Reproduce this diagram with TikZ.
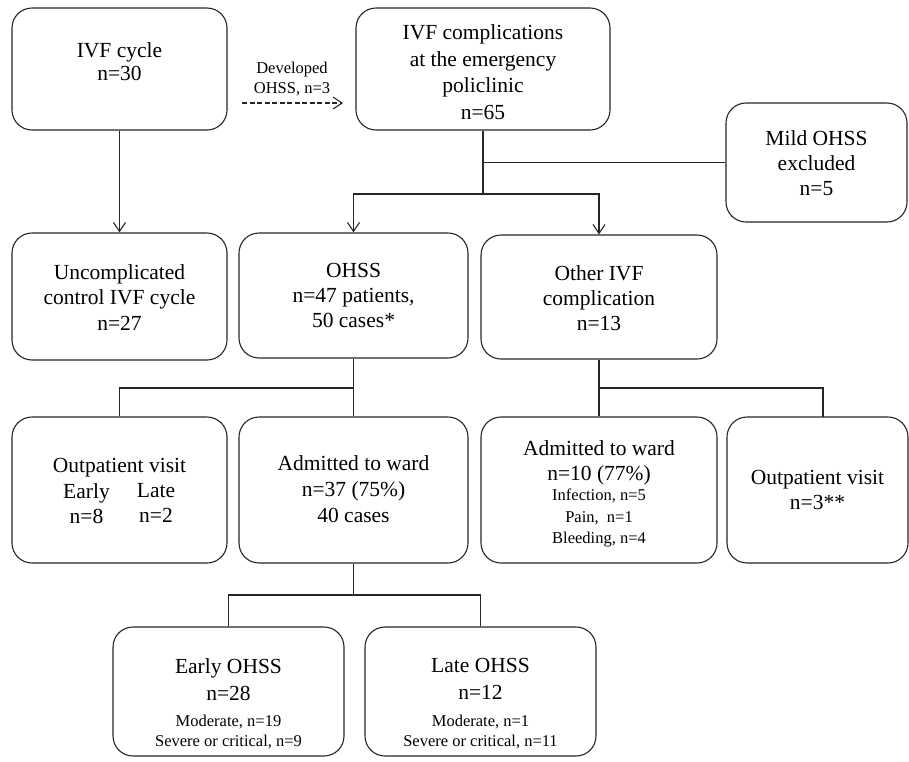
\documentclass[tikz,border=0pt]{standalone}
\usepackage{fontspec}
\setmainfont{Liberation Serif}
\usetikzlibrary{arrows.meta,calc}
\begin{document}
\begin{tikzpicture}[x=1pt,y=-1pt,
  box/.style={draw=black!85,line width=1.1pt,rounded corners=20pt,fill=white,inner sep=0pt},
  big/.style={anchor=north,inner sep=0pt,align=center,font=\fontsize{21.5}{#1}\selectfont},
  big/.default=25.5,
  small/.style={anchor=north,inner sep=0pt,align=center,font=\fontsize{16.5}{#1}\selectfont},
  small/.default=21,
  conn/.style={draw=black!85,line width=1.1pt},
  arr/.style={conn,-{Straight Barb[length=9pt,width=12pt,line width=1.1pt]}}]
\useasboundingbox (0,0) rectangle (909,761);
% boxes
\node[box,minimum width=215pt,minimum height=122pt] (bA) at (119.5,69) {};
\node[box,minimum width=254pt,minimum height=122pt] (bB) at (483,69) {};
\node[box,minimum width=181pt,minimum height=119pt] (bM) at (816.5,162.5) {};
\node[box,minimum width=215pt,minimum height=127pt] (bC) at (119.5,296.5) {};
\node[box,minimum width=229pt,minimum height=125pt] (bD) at (353.5,295.5) {};
\node[box,minimum width=236pt,minimum height=124pt] (bE) at (599,297) {};
\node[box,minimum width=215pt,minimum height=146pt] (bF) at (119.5,490) {};
\node[box,minimum width=229pt,minimum height=146pt] (bG) at (353.5,490) {};
\node[box,minimum width=236pt,minimum height=146pt] (bH) at (599,490) {};
\node[box,minimum width=181pt,minimum height=146pt] (bI) at (817.5,490) {};
\node[box,minimum width=231pt,minimum height=129pt] (bJ) at (228.5,691.5) {};
\node[box,minimum width=231pt,minimum height=129pt] (bK) at (480.5,691.5) {};
% texts
\node[big=23] (tA) at (119.5,42.3) {IVF cycle\\n=30};
\node[big=26.5] (tB) at (483,24.8) {IVF complications\\at the emergency\\policlinic\\n=65};
\node[big=25] (tM) at (816.5,130.3) {Mild OHSS\\excluded\\n=5};
\node[big] (tC) at (119.5,264.3) {Uncomplicated\\control IVF cycle\\n=27};
\node[big=25] (tD) at (353.5,263.3) {OHSS\\n=47 patients,\\50 cases*};
\node[big=25] (tE) at (599,265.3) {Other IVF\\complication\\n=13};
\node[big] (tF) at (119.5,458.3) {Outpatient visit};
\node[big=25] (tFa) at (86.5,483.3) {Early\\n=8};
\node[big=25] (tFb) at (156,483.3) {Late\\n=2};
\node[big=26] (tG) at (353.5,455.3) {Admitted to ward\\n=37 (75\%)\\40 cases};
\node[big=25] (tH) at (599,440.3) {Admitted to ward\\n=10 (77\%)};
\node[small=21.5] (tHs) at (599,488.7) {Infection, n=5\\Pain,\ \ n=1\\Bleeding, n=4};
\node[big=25] (tI) at (817.5,470.3) {Outpatient visit\\n=3**};
\node[big=27] (tJ) at (228.5,658.3) {Early OHSS\\n=28};
\node[small=20] (tJs) at (228.5,714.7) {Moderate, n=19\\Severe or critical, n=9};
\node[big=27] (tK) at (480.5,658.3) {Late OHSS\\n=12};
\node[small=20] (tKs) at (480.5,714.7) {Moderate, n=1\\Severe or critical, n=11};
\node[small=20] (tL) at (292,61.7) {Developed\\OHSS, n=3};
% junctions
\coordinate (d1) at (242,103);
\coordinate (d2) at (343,103);
\coordinate (j1) at (483,194);
\coordinate (j2) at (353.5,388);
\coordinate (j3) at (353.5,595);
\coordinate (j4) at (823,417);
% connectors
\draw[arr] (bA.south) -- (bC.north);
\draw[arr,dash pattern=on 5pt off 2.5pt] (d1) -- (d2);
\draw[conn] (bB.south) -- (j1);
\draw[conn] (bB.south |- bM.west) -- (bM.west);
\draw[arr] (j1) -| (bD.north);
\draw[arr] (j1) -| (bE.north);
\draw[conn] (bD.south) -- (bG.north);
\draw[conn] (j2) -| (bF.north);
\draw[conn] (bE.south) -- (bH.north);
\draw[conn] (bE.south |- j2) -| (j4);
\draw[conn] (bG.south) -- (j3);
\draw[conn] (j3) -| (bJ.north);
\draw[conn] (j3) -| (bK.north);
\end{tikzpicture}
\end{document}
